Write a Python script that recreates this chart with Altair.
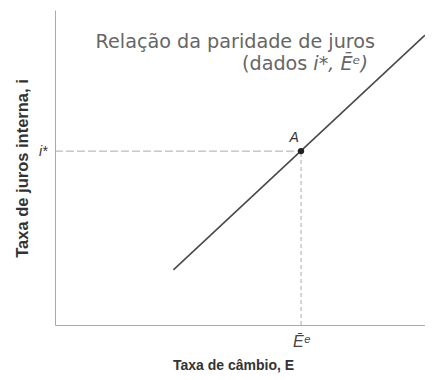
import altair as alt
import pandas as pd

# Parity line endpoints (exchange rate E, domestic interest rate i)
line_E = [32.0, 100.0]
line_i = [17.5, 92.0]

# Equilibrium point A
point_E = [66.5]
point_i = [55.2]
point_label = ["A"]

# Tick labels
x_tick_label = "Ēᵉ"
y_tick_label = "i*"

ann_line1 = "Relação da paridade de juros"
ann_line2a = "(dados"
ann_line2b = "i*, Ēᵉ)"

line_df = pd.DataFrame({"E": line_E, "i": line_i})
pt_df = pd.DataFrame({"E": point_E, "i": point_i, "lab": point_label})
h_df = pd.DataFrame({"E": [0.0], "E2": point_E, "i": point_i})
v_df = pd.DataFrame({"E": point_E, "i": [0.0], "i2": point_i})
ann1_df = pd.DataFrame({"E": [86.5], "i": [89.8], "t": [ann_line1]})
ann2a_df = pd.DataFrame({"E": [68.2], "i": [83.0], "t": [ann_line2a]})
ann2b_df = pd.DataFrame({"E": [68.2], "i": [83.0], "t": [ann_line2b]})

xs = alt.Scale(domain=[0, 100], nice=False, zero=False)
ys = alt.Scale(domain=[0, 100], nice=False, zero=False)

x_axis = alt.Axis(
    values=point_E, labelExpr=f"'{x_tick_label}'", ticks=False, grid=False,
    domainColor="#aaaaaa", domainWidth=1, labelFontStyle="italic", labelFontSize=16,
    labelColor="#444", labelFont="Liberation Sans", labelPadding=8,
    title="Taxa de câmbio, E", titleFont="Liberation Sans", titleFontSize=14,
    titleFontWeight="bold", titleColor="#333", titlePadding=9, titleX=178,
)
y_axis = alt.Axis(
    values=point_i, labelExpr=f"'{y_tick_label}'", ticks=False, grid=False,
    domainColor="#aaaaaa", domainWidth=1, labelFontStyle="italic", labelFontSize=14,
    labelColor="#333", labelFont="Liberation Sans", labelPadding=8,
    title="Taxa de juros interna, i", titleFont="Liberation Sans", titleFontSize=16.5,
    titleFontWeight="bold", titleColor="#333", titlePadding=8, titleY=158,
)

base_x = alt.X("E:Q", scale=xs, axis=x_axis)
base_y = alt.Y("i:Q", scale=ys, axis=y_axis)

hline = alt.Chart(h_df).mark_rule(color="#aaaaaa", strokeWidth=1, strokeDash=[8, 3]).encode(
    x=base_x, x2="E2:Q", y=base_y)
vline = alt.Chart(v_df).mark_rule(color="#aaaaaa", strokeWidth=1, strokeDash=[4, 3]).encode(
    x=base_x, y=base_y, y2="i2:Q")
line = alt.Chart(line_df).mark_line(color="#4a4a4a", strokeWidth=1.6).encode(x=base_x, y=base_y)
pt = alt.Chart(pt_df).mark_point(filled=True, color="#222222", size=40, opacity=1).encode(
    x=base_x, y=base_y)
ptlab = alt.Chart(pt_df).mark_text(
    font="Liberation Sans", fontStyle="italic", fontSize=14, color="#333",
    dx=-7, dy=-13).encode(x=base_x, y=base_y, text="lab:N")
ann1 = alt.Chart(ann1_df).mark_text(
    font="DejaVu Sans", fontSize=19.2, color="#666", align="right").encode(
    x=base_x, y=base_y, text="t:N")
ann2a = alt.Chart(ann2a_df).mark_text(
    font="DejaVu Sans", fontSize=19.2, color="#666", align="right").encode(
    x=base_x, y=base_y, text="t:N")
ann2b = alt.Chart(ann2b_df).mark_text(
    font="DejaVu Sans", fontSize=19.2, fontStyle="italic", color="#666", align="left",
    dx=6).encode(x=base_x, y=base_y, text="t:N")

chart = alt.layer(hline, vline, line, pt, ptlab, ann1, ann2a, ann2b).properties(
    width=370, height=315,
    autosize=alt.AutoSizeParams(type="none"),
    padding={"left": 47, "top": 2, "right": 0, "bottom": 52},
).configure_view(stroke=None)

chart.save("out.html", embed_options={"renderer": "svg", "actions": False})
